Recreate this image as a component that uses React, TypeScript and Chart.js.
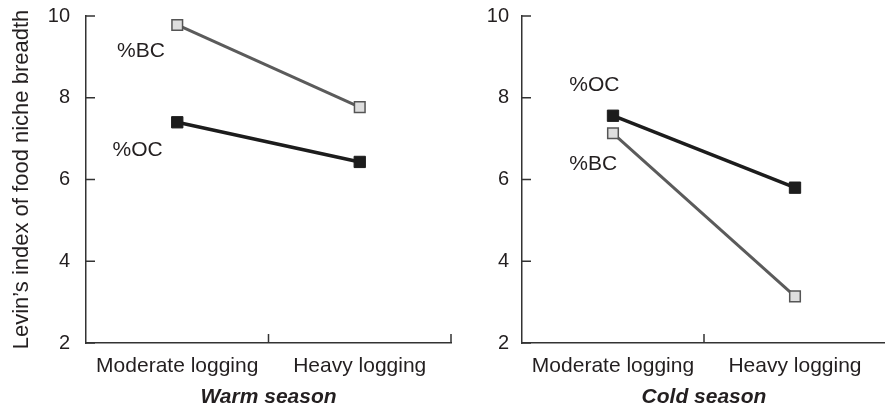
import { useEffect, useRef } from "react";
import { Chart, registerables } from "chart.js";

Chart.register(...registerables);

const categories = ["Moderate logging", "Heavy logging"];
const warmOC = [7.4, 6.43];
const warmBC = [9.78, 7.77];
const coldOC = [7.56, 5.8];
const coldBC = [7.13, 3.14];
const yMin = 2;
const yMax = 10;
const yStep = 2;
const yAxisTitle = "Levin\u2019s index of food niche breadth";
const warmTitle = "Warm season";
const coldTitle = "Cold season";
// series annotations: text, fractional category index, value
const warmNotes = [
  { text: "%BC", x: -0.33, y: 9.0 },
  { text: "%OC", x: -0.355, y: 6.58 },
];
const coldNotes = [
  { text: "%OC", x: -0.24, y: 8.17 },
  { text: "%BC", x: -0.24, y: 6.23 },
];

const FONT = '"Liberation Sans", Arial, Helvetica, sans-serif';
const TEXT = "#231f20";
const AXIS = "#333333";

type Note = { text: string; x: number; y: number };

function makePlugin(notes: Note[]) {
  return {
    id: "innerTicks",
    afterDraw(chart: any) {
      const { ctx, chartArea } = chart;
      const x = chart.scales.x;
      const y = chart.scales.y;
      ctx.save();
      ctx.strokeStyle = AXIS;
      ctx.lineWidth = 1.5;
      ctx.beginPath();
      y.ticks.forEach((t: any) => {
        const py = y.getPixelForValue(t.value);
        ctx.moveTo(chartArea.left, py);
        ctx.lineTo(chartArea.left + 9, py);
      });
      for (let k = 1; k <= categories.length; k++) {
        const px = x.getPixelForValue(k - 0.5);
        ctx.moveTo(px, chartArea.bottom);
        ctx.lineTo(px, chartArea.bottom - 9);
      }
      ctx.stroke();
      ctx.fillStyle = TEXT;
      ctx.font = `21px ${FONT}`;
      ctx.textAlign = "left";
      ctx.textBaseline = "alphabetic";
      notes.forEach((n) => {
        ctx.fillText(n.text, x.getPixelForValue(n.x), y.getPixelForValue(n.y));
      });
      ctx.restore();
    },
  };
}

function buildConfig(
  oc: number[],
  bc: number[],
  title: string,
  notes: Note[],
  yWidth: number,
  tickPad: number,
  padRight: number,
  showYTitle: boolean
): any {
  return {
    type: "line",
    data: {
      labels: categories,
      datasets: [
        {
          label: "%OC",
          data: oc,
          borderColor: "#1c1c1c",
          borderWidth: 3.5,
          pointStyle: "rect",
          pointRadius: 8,
          pointBackgroundColor: "#1c1c1c",
          pointBorderColor: "#1c1c1c",
          pointBorderWidth: 1,
        },
        {
          label: "%BC",
          data: bc,
          borderColor: "#5b5b5b",
          borderWidth: 3,
          pointStyle: "rect",
          pointRadius: 7.5,
          pointBackgroundColor: "#dedede",
          pointBorderColor: "#555555",
          pointBorderWidth: 1.5,
        },
      ],
    },
    options: {
      animation: false,
      responsive: false,
      events: [],
      layout: { padding: { left: 0, right: padRight, top: 16, bottom: 0 } },
      plugins: { legend: { display: false }, tooltip: { enabled: false } },
      scales: {
        x: {
          type: "category",
          offset: true,
          grid: { display: false, drawTicks: false },
          border: { display: true, color: AXIS, width: 1.5 },
          ticks: {
            color: TEXT,
            padding: 11,
            maxRotation: 0,
            autoSkip: false,
            font: { family: FONT, size: 21 },
          },
          title: {
            display: true,
            text: title,
            color: TEXT,
            padding: { top: 0, bottom: 5 },
            font: { family: FONT, size: 21, weight: "bold", style: "italic" },
          },
          afterFit(scale: any) {
            scale.height = 72;
            scale.paddingLeft = 0;
            scale.paddingRight = 0;
          },
        },
        y: {
          type: "linear",
          min: yMin,
          max: yMax,
          grid: { display: false, drawTicks: false },
          border: { display: true, color: AXIS, width: 1.5 },
          ticks: {
            stepSize: yStep,
            color: TEXT,
            padding: tickPad,
            font: { family: FONT, size: 20 },
          },
          title: {
            display: showYTitle,
            text: yAxisTitle,
            color: TEXT,
            padding: { top: 9, bottom: 0 },
            font: { family: FONT, size: 22 },
          },
          afterFit(scale: any) {
            scale.width = yWidth;
            scale.paddingTop = 0;
            scale.paddingBottom = 0;
          },
        },
      },
    },
    plugins: [makePlugin(notes)],
  };
}

export default function App() {
  const leftRef = useRef<HTMLCanvasElement | null>(null);
  const rightRef = useRef<HTMLCanvasElement | null>(null);

  useEffect(() => {
    const c1 = new Chart(
      leftRef.current as HTMLCanvasElement,
      buildConfig(warmOC, warmBC, warmTitle, warmNotes, 86, 16, 2, true)
    );
    const c2 = new Chart(
      rightRef.current as HTMLCanvasElement,
      buildConfig(coldOC, coldBC, coldTitle, coldNotes, 72, 13, 1, false)
    );
    return () => {
      c1.destroy();
      c2.destroy();
    };
  }, []);

  return (
    <div
      style={{
        position: "fixed",
        left: 0,
        top: 0,
        width: 885,
        height: 415,
        overflow: "hidden",
        background: "#ffffff",
      }}
    >
      <canvas
        ref={leftRef}
        width={460}
        height={415}
        style={{ position: "absolute", left: 0, top: 0, width: 460, height: 415 }}
      />
      <canvas
        ref={rightRef}
        width={445}
        height={415}
        style={{ position: "absolute", left: 450, top: 0, width: 445, height: 415 }}
      />
    </div>
  );
}
